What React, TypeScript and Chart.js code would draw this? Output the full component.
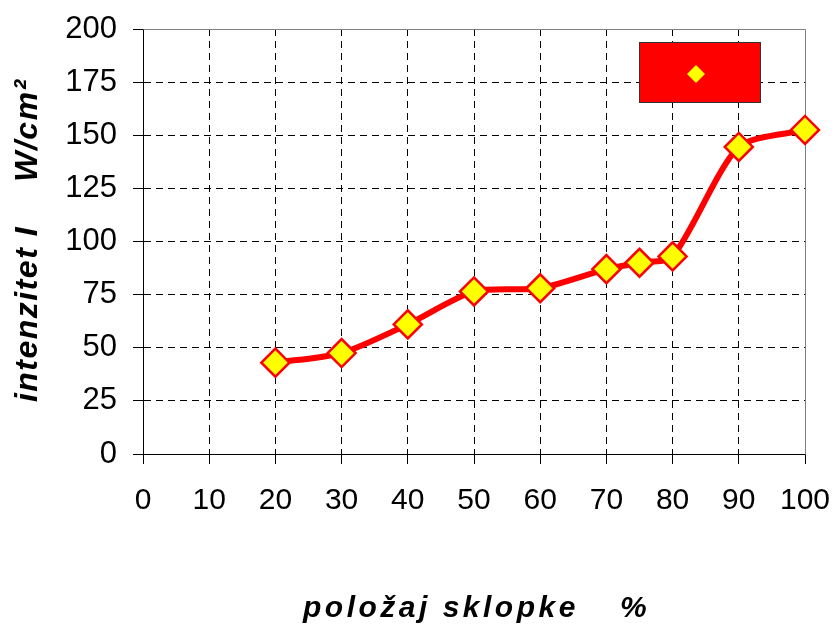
import { useEffect, useRef } from 'react';
import { Chart, registerables } from 'chart.js';

Chart.register(...registerables);

// položaj sklopke (%)
const positions = [20, 30, 40, 50, 60, 70, 75, 80, 90, 100];
// intenzitet I (W/cm²)
const intensity = [43, 47.5, 61, 76.5, 78, 87, 90, 93, 144.5, 152.5];

const xTickStep = 10;
const yTickStep = 25;
const xTitle = 'položaj sklopke';
const xUnit = '%';
const yTitle = 'intenzitet I';
const yUnit = 'W/cm²';

const SANS = '"Liberation Sans", Arial, sans-serif';

const alignPx = (p: number) => Math.round(p - 0.5) + 0.5;

const decorPlugin = {
  id: 'decor',
  beforeDatasetsDraw(chart: any) {
    const { ctx, chartArea } = chart;
    const t = alignPx(chartArea.top);
    const r = alignPx(chartArea.right);
    const b = alignPx(chartArea.bottom);
    const l = alignPx(chartArea.left);
    ctx.save();
    ctx.strokeStyle = '#808080';
    ctx.lineWidth = 1;
    ctx.beginPath();
    ctx.moveTo(l, t);
    ctx.lineTo(r, t);
    ctx.lineTo(r, b);
    ctx.stroke();
    ctx.restore();
  },
  afterDraw(chart: any) {
    const { ctx } = chart;
    ctx.save();
    // legend box
    ctx.fillStyle = '#FF0000';
    ctx.fillRect(639, 42, 121, 60);
    ctx.strokeStyle = '#333333';
    ctx.lineWidth = 1;
    ctx.strokeRect(639.5, 42.5, 121, 60);
    ctx.fillStyle = '#FFFF00';
    ctx.beginPath();
    ctx.moveTo(696, 65);
    ctx.lineTo(705, 74);
    ctx.lineTo(696, 83);
    ctx.lineTo(687, 74);
    ctx.closePath();
    ctx.fill();

    // axis titles
    ctx.fillStyle = '#000';
    ctx.textBaseline = 'alphabetic';
    ctx.font = `italic bold 30px ${SANS}`;
    ctx.textAlign = 'left';
    (ctx as any).letterSpacing = '3.5px';
    ctx.fillText(xTitle, 303, 617);
    ctx.fillText(xUnit, 620, 617);

    ctx.font = `italic bold 32px ${SANS}`;
    (ctx as any).letterSpacing = '1.5px';
    ctx.textAlign = 'center';
    ctx.save();
    ctx.translate(37, 314);
    ctx.rotate(-Math.PI / 2);
    ctx.fillText(yTitle, 0, 0);
    ctx.restore();
    ctx.save();
    ctx.translate(37, 130);
    ctx.rotate(-Math.PI / 2);
    ctx.fillText(yUnit, 0, 0);
    ctx.restore();
    ctx.restore();
  },
};

export default function App() {
  const ref = useRef<HTMLCanvasElement>(null);
  useEffect(() => {
    const chart = new Chart(ref.current!, {
      type: 'line',
      data: {
        datasets: [
          {
            data: positions.map((x, i) => ({ x, y: intensity[i] })),
            borderColor: '#FF0000',
            borderWidth: 6,
            backgroundColor: '#FFFF00',
            pointStyle: 'rectRot',
            pointRadius: 14,
            pointBorderColor: '#FF0000',
            pointBorderWidth: 2.5,
            pointBackgroundColor: '#FFFF00',
            tension: 0.25,
            clip: false as any,
          },
        ],
      },
      options: {
        responsive: false,
        animation: false,
        events: [],
        layout: { padding: { top: 29, right: 31, left: 0, bottom: 0 } },
        plugins: { legend: { display: false }, tooltip: { enabled: false } },
        scales: {
          x: {
            type: 'linear',
            min: 0,
            max: 100,
            ticks: {
              stepSize: xTickStep,
              color: '#000',
              padding: 19,
              maxRotation: 0,
              font: { family: SANS, size: 30 },
            },
            grid: {
              color: (c: any) => (c.tick && c.tick.value === 100 ? 'rgba(0,0,0,0)' : '#000'),
              tickColor: '#000',
              tickLength: 10,
              lineWidth: 1,
            },
            border: { color: '#000', width: 1, dash: [7, 5] },
            afterFit: (s: any) => {
              s.height = 174;
              s.paddingLeft = 0;
              s.paddingRight = 0;
            },
          },
          y: {
            type: 'linear',
            min: 0,
            max: 200,
            ticks: {
              stepSize: yTickStep,
              color: '#000',
              padding: 16,
              font: { family: SANS, size: 31 },
            },
            grid: {
              color: (c: any) => (c.tick && c.tick.value === 200 ? 'rgba(0,0,0,0)' : '#000'),
              tickColor: '#000',
              tickLength: 10,
              lineWidth: 1,
            },
            border: { color: '#000', width: 1, dash: [7, 5] },
            afterFit: (s: any) => {
              s.width = 143;
              s.paddingTop = 0;
              s.paddingBottom = 0;
            },
          },
        },
      },
      plugins: [decorPlugin],
    });
    return () => chart.destroy();
  }, []);
  return (
    <div style={{ position: 'fixed', left: 0, top: 0, width: 836, height: 628, background: '#fff' }}>
      <canvas ref={ref} width={836} height={628} style={{ width: 836, height: 628, display: 'block' }} />
    </div>
  );
}
